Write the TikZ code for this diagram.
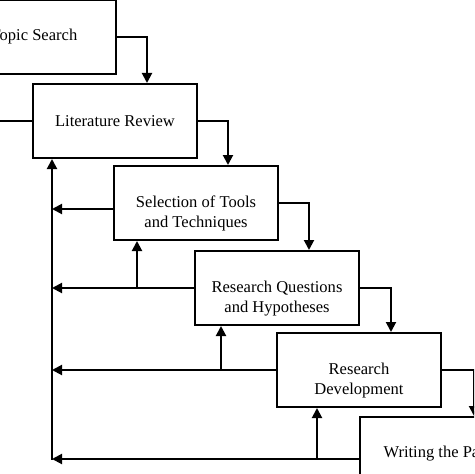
\documentclass[tikz,border=0pt]{standalone}
\usepackage{fontspec}
\setmainfont{Liberation Serif}
\usetikzlibrary{arrows.meta}
\newcommand{\twoLines}[2]{\raisebox{-7.5pt}[\height][\depth]{\begin{tabular}{@{}c@{}}#1\\#2\end{tabular}}}
\tikzset{
  stageBox/.style={draw=black, line width=1.5pt, fill=white, minimum width=123pt, minimum height=55.5pt, inner sep=0pt, font=\fontsize{12.4}{15}\selectfont},
  flowLine/.style={draw=black, line width=1.5pt},
  flowArrow/.style={flowLine, -{Triangle[length=7.5pt, width=7.5pt]}}
}

\begin{document}
\begin{tikzpicture}[x=0.75pt, y=-0.75pt]
  \useasboundingbox (0,0) rectangle (474,474);
  \clip (0,0) rectangle (474,474);

  \node[stageBox] (topic) at (34,37) {Topic Search};
  \node[stageBox] (review) at (115,121) {Literature Review};
  \node[stageBox] (tools) at (196,203) {\twoLines{Selection of Tools}{and Techniques}};
  \node[stageBox] (questions) at (277,288) {\twoLines{Research Questions}{and Hypotheses}};
  \node[stageBox] (develop) at (359,370) {\twoLines{Research}{Development}};
  \node[stageBox] (writing) at (442,454) {Writing the Paper};

  % forward steps
  \draw[flowArrow] (topic.east) -| ([xshift=24pt]review.north);
  \draw[flowArrow] (review.east) -| ([xshift=24pt]tools.north);
  \draw[flowArrow] (tools.east) -| ([xshift=24pt]questions.north);
  \draw[flowArrow] (questions.east) -| ([xshift=24pt]develop.north);
  \draw[flowArrow] (develop.east) -| ([xshift=24pt]writing.north);

  % feedback paths
  \coordinate (loopFoot) at (52,459);
  \coordinate (riseTools) at (137,0);
  \coordinate (riseQuestions) at (221,0);
  \coordinate (riseDevelop) at (317,0);
  \coordinate (reviewOut) at (-10,121);
  \coordinate (toolsOut) at ([yshift=-4.5pt]tools.west);

  \draw[flowLine] (review.west) -- (reviewOut);
  \draw[flowArrow, line cap=rect] (loopFoot) -- (loopFoot |- review.south);
  \draw[flowArrow] (toolsOut) -- (toolsOut -| loopFoot);
  \draw[flowArrow] (questions.west) -- (questions.west -| loopFoot);
  \draw[flowArrow] (questions.west -| riseTools) -- (riseTools |- tools.south);
  \draw[flowArrow] (develop.west) -- (develop.west -| loopFoot);
  \draw[flowArrow] (develop.west -| riseQuestions) -- (riseQuestions |- questions.south);
  \draw[flowArrow] (writing.west |- loopFoot) -- (loopFoot);
  \draw[flowArrow] (loopFoot -| riseDevelop) -- (riseDevelop |- develop.south);
\end{tikzpicture}
\end{document}
